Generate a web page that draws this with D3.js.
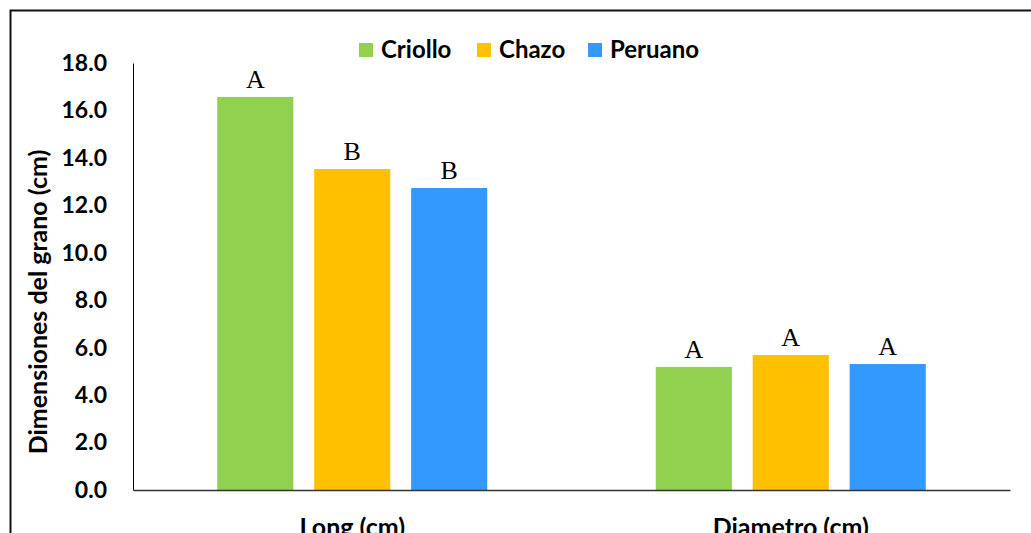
<!DOCTYPE html>
<html>
<head>
<meta charset="utf-8">
<script src="https://cdn.jsdelivr.net/npm/d3@7"></script>
<style>
  html, body { margin: 0; padding: 0; background: #fff; }
  svg { display: block; }
</style>
</head>
<body>
<script>
// Grain dimensions by variety
const categories = ["Long (cm)", "Diametro (cm)"];
const varieties = ["Criollo", "Chazo", "Peruano"];
const criolloValues = [16.57, 5.19];
const chazoValues = [13.53, 5.69];
const peruanoValues = [12.73, 5.31];
const criolloLetters = ["A", "A"];
const chazoLetters = ["B", "A"];
const peruanoLetters = ["B", "A"];
const yTicks = [0, 2, 4, 6, 8, 10, 12, 14, 16, 18];
const colors = ["#92D050", "#FFC000", "#3399FF"];

const seriesValues = [criolloValues, chazoValues, peruanoValues];
const seriesLetters = [criolloLetters, chazoLetters, peruanoLetters];

const W = 1031, H = 533;
const margin = { left: 133, right: 21, top: 63, bottom: 43 };

const svg = d3.select("body").append("svg")
  .attr("width", W).attr("height", H);

// outer frame
svg.append("rect")
  .attr("x", 10.5).attr("y", 10.5)
  .attr("width", W + 20).attr("height", H + 20)
  .attr("fill", "none").attr("stroke", "#111").attr("stroke-width", 2);

const x0 = d3.scaleBand()
  .domain(categories)
  .range([margin.left, W - margin.right])
  .paddingInner(0).paddingOuter(0);

const groupWidth = 270;
const x1 = d3.scaleBand()
  .domain(varieties)
  .range([0, groupWidth])
  .paddingInner(0.215).paddingOuter(0);

const y = d3.scaleLinear()
  .domain([0, 18])
  .range([H - margin.bottom, margin.top]);

const font = "Lato, 'Open Sans', sans-serif";

// bars
const rows = [];
categories.forEach((c, ci) => {
  varieties.forEach((v, vi) => {
    rows.push({ c, v, vi, value: seriesValues[vi][ci], letter: seriesLetters[vi][ci] });
  });
});

const gx = (d) => x0(d.c) + (x0.bandwidth() - groupWidth) / 2 + x1(d.v);

svg.append("g").selectAll("rect")
  .data(rows).join("rect")
  .attr("x", gx)
  .attr("y", d => y(d.value))
  .attr("width", x1.bandwidth())
  .attr("height", d => y(0) - y(d.value))
  .attr("fill", d => colors[d.vi]);

// significance letters
svg.append("g").selectAll("text")
  .data(rows).join("text")
  .attr("x", d => gx(d) + x1.bandwidth() / 2)
  .attr("y", d => y(d.value) - 9)
  .attr("text-anchor", "middle")
  .attr("font-family", "'Liberation Serif', 'Times New Roman', serif")
  .attr("font-size", 26)
  .attr("fill", "#000")
  .text(d => d.letter);

// y axis
const yAxis = d3.axisLeft(y)
  .tickValues(yTicks)
  .tickFormat(d3.format(".1f"))
  .tickSize(0)
  .tickPadding(26);
const gy = svg.append("g")
  .attr("transform", `translate(${margin.left},0)`)
  .call(yAxis);
gy.select(".domain").attr("stroke", "#000").attr("stroke-width", 1);
gy.selectAll("text")
  .attr("font-family", font).attr("font-weight", "bold")
  .attr("font-size", 23).attr("fill", "#000");

// x axis
const xAxis = d3.axisBottom(x0).tickSize(0).tickPadding(28);
const gxAxis = svg.append("g")
  .attr("transform", `translate(0,${y(0)})`)
  .call(xAxis);
gxAxis.select(".domain").attr("stroke", "#333").attr("stroke-width", 1.5);
gxAxis.selectAll("text")
  .attr("font-family", font).attr("font-weight", "bold")
  .attr("font-size", 25).attr("fill", "#000");

// y axis title
svg.append("text")
  .attr("transform", `translate(47,302) rotate(-90)`)
  .attr("text-anchor", "middle")
  .attr("font-family", font).attr("font-weight", "bold")
  .attr("font-size", 25).attr("fill", "#000")
  .text("Dimensiones del grano (cm)");

// legend
const legendX = [359, 477, 588];
const legend = svg.append("g").selectAll("g")
  .data(varieties).join("g")
  .attr("transform", (d, i) => `translate(${legendX[i]},43)`);
legend.append("rect")
  .attr("width", 14).attr("height", 14)
  .attr("fill", (d, i) => colors[i]);
legend.append("text")
  .attr("x", 22).attr("y", 15)
  .attr("font-family", font).attr("font-weight", "bold")
  .attr("font-size", 24).attr("fill", "#000")
  .text(d => d);
</script>
</body>
</html>
